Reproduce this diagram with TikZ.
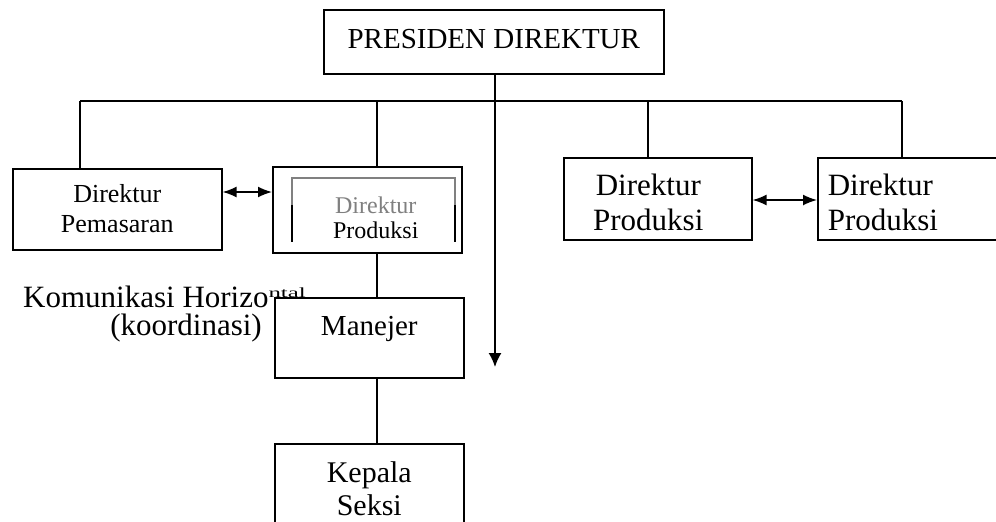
\documentclass[tikz,border=0pt]{standalone}
\usepackage{fontspec}
\setmainfont{Liberation Serif}
\usetikzlibrary{arrows.meta}
\tikzset{
  box/.style={draw, line width=1.6pt, fill=white, inner sep=0pt, align=center, anchor=north west},
  ln/.style={line width=1.6pt},
  harrow/.style={line width=1.6pt, {Latex[length=14pt,width=11pt]}-{Latex[length=14pt,width=11pt]}},
  varrow/.style={line width=1.6pt, -{Latex[length=14pt,width=13pt]}}
}
\begin{document}
\begin{tikzpicture}[x=1pt,y=-1pt]
\useasboundingbox (0,0) rectangle (996,522);
\clip (0,0) rectangle (996,522);

% text beside the chain
\node[anchor=base west, inner sep=0pt, font=\fontsize{31}{35}\selectfont] (kom1) at (23,307)
  {Komunikasi Horizo\raisebox{10pt}{\scalebox{0.8}[0.45]{ntal}}};
\node[anchor=base east, inner sep=0pt, font=\fontsize{31}{35}\selectfont] (kom2) at (262,335) {(koordinasi)};

% boxes
\node[box, minimum width=340pt, text height=39pt, text depth=25pt, font=\fontsize{29}{35}\selectfont] (pres) at (323,9) {PRESIDEN DIREKTUR};
\node[box, minimum width=209pt, text height=64pt, text depth=17pt, font=\fontsize{26}{30}\selectfont] (pem) at (12,168) {Direktur\\Pemasaran};
\node[box, text width=189pt, text height=47pt, text depth=39pt, font=\fontsize{24}{25}\selectfont] (prod1) at (272,166)
  {\hspace*{17pt}{\color{gray}Direktur}\\\hspace*{17pt}Produksi};
\node[box, minimum width=189pt, text height=38pt, text depth=42pt, font=\fontsize{29}{35}\selectfont] (man) at (274,297) {Manejer};
\node[box, minimum width=189pt, text height=72pt, text depth=30pt, font=\fontsize{30}{33}\selectfont] (kep) at (274,443) {Kepala\\Seksi};
\node[box, text width=188pt, text height=38pt, text depth=44pt, font=\fontsize{31}{35}\selectfont] (pA) at (563,157)
  {\hspace*{-19pt}Direktur\\\hspace*{-19pt}Produksi};
\node[box, text width=180pt, inner xsep=10pt, text height=38pt, text depth=44pt, align=left, font=\fontsize{31}{35}\selectfont] (pB) at (817,157) {Direktur\\Produksi};

% inner frame of the second box
\draw[gray, line width=1.2pt] (292,205) -- (292,178) -- (455,178) -- (455,205);
\draw[line width=1.2pt] (292,205) -- (292,242) (455,205) -- (455,242);

% bus
\coordinate (b1) at (80,101);
\coordinate (b2) at (377,101);
\coordinate (b3) at (648,101);
\coordinate (b4) at (902,101);
\coordinate (tip) at (495,367);
\coordinate (h1) at (240,192);
\coordinate (h2) at (780,200);

\draw[ln] (b1) -- (b4);
\draw[ln] (b1) -- (b1 |- pem.north);
\draw[ln] (b2) -- (b2 |- prod1.north);
\draw[ln] (b3) -- (b3 |- pA.north);
\draw[ln] (b4) -- (b4 |- pB.north);
\draw[varrow] (tip |- pres.south) -- (tip);
\draw[ln] (b2 |- prod1.south) -- (b2 |- man.north);
\draw[ln] (b2 |- man.south) -- (b2 |- kep.north);

% horizontal coordination arrows
\draw[harrow] (pem.east |- h1) -- (prod1.west |- h1);
\draw[harrow] (pA.east |- h2) -- (pB.west |- h2);
\end{tikzpicture}
\end{document}
